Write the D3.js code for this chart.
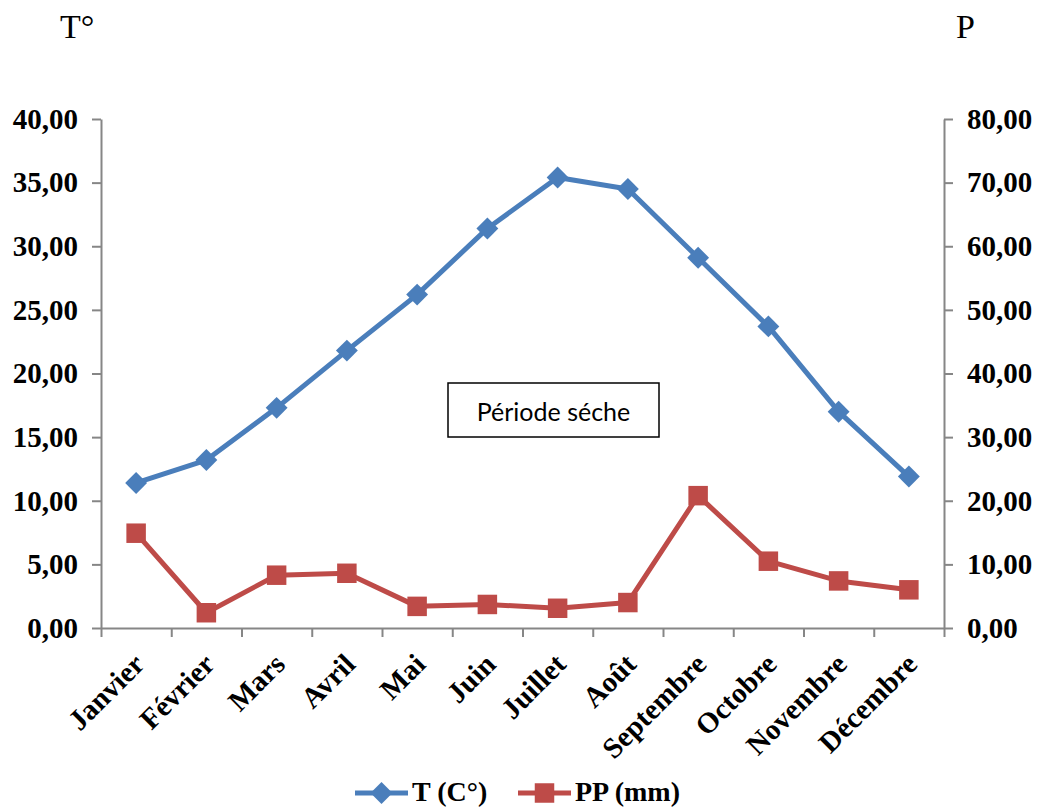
<!DOCTYPE html>
<html>
<head>
<meta charset="utf-8">
<script src="https://cdn.jsdelivr.net/npm/d3@7"></script>
<style>
  body { margin: 0; background: #fff; }
  svg { display: block; }
</style>
</head>
<body>
<div id="chart"></div>
<script>
// Diagramme ombrothermique — températures et précipitations mensuelles
const months = ['Janvier', 'Février', 'Mars', 'Avril', 'Mai', 'Juin',
  'Juillet', 'Août', 'Septembre', 'Octobre', 'Novembre', 'Décembre'];
const temperature = [11.4, 13.2, 17.3, 21.8, 26.2, 31.4, 35.4, 34.5, 29.1, 23.7, 17.0, 11.9];
const precipitation = [14.9, 2.4, 8.3, 8.6, 3.4, 3.7, 3.1, 4.0, 20.8, 10.5, 7.4, 6.0];
const tempTicks = [0, 5, 10, 15, 20, 25, 30, 35, 40];
const precTicks = [0, 10, 20, 30, 40, 50, 60, 70, 80];

const width = 1042, height = 808;
const margin = { top: 119, right: 98, bottom: 180, left: 101 };
const blue = '#4A7EBB', red = '#BE4B48', axisGrey = '#868686';
const serif = '"Liberation Serif", "Times New Roman", serif';

const svg = d3.select('#chart').append('svg')
  .attr('width', width).attr('height', height);

const x = d3.scaleBand().domain(months)
  .range([margin.left, width - margin.right]).padding(0);
const xEdges = d3.scaleLinear().domain([0, months.length])
  .range([margin.left, width - margin.right]);
const yT = d3.scaleLinear().domain([0, 40]).range([height - margin.bottom, margin.top]);
const yP = d3.scaleLinear().domain([0, 80]).range([height - margin.bottom, margin.top]);
const cx = m => x(m) + x.bandwidth() / 2;
const fmt = d => d.toFixed(2).replace('.', ',');

function styleAxis(g) {
  g.selectAll('path, line').attr('stroke', axisGrey).attr('stroke-width', 2);
  g.selectAll('text').attr('font-family', serif).attr('font-weight', 'bold')
    .attr('font-size', 29).attr('fill', '#000');
}

// left axis (temperature)
svg.append('g')
  .attr('transform', `translate(${margin.left},0)`)
  .call(d3.axisLeft(yT).tickValues(tempTicks).tickFormat(fmt).tickSize(9).tickSizeOuter(0).tickPadding(14))
  .call(styleAxis);

// right axis (precipitation)
svg.append('g')
  .attr('transform', `translate(${width - margin.right},0)`)
  .call(d3.axisRight(yP).tickValues(precTicks).tickFormat(fmt).tickSize(9).tickSizeOuter(0).tickPadding(14))
  .call(styleAxis);

// x axis: boundary ticks
svg.append('g')
  .attr('transform', `translate(0,${height - margin.bottom})`)
  .call(d3.axisBottom(xEdges).tickValues(d3.range(months.length + 1)).tickFormat('').tickSize(9).tickSizeOuter(0))
  .call(styleAxis);

// x axis: rotated month labels
svg.append('g')
  .attr('transform', `translate(0,${height - margin.bottom})`)
  .call(d3.axisBottom(x).tickSize(0).tickPadding(0))
  .call(g => g.select('.domain').remove())
  .call(styleAxis)
  .selectAll('text')
  .attr('text-anchor', 'end')
  .attr('dy', null)
  .attr('y', 0)
  .attr('transform', 'translate(10,38) rotate(-45)');

// lines
const lineT = d3.line().x((d, i) => cx(months[i])).y(d => yT(d));
const lineP = d3.line().x((d, i) => cx(months[i])).y(d => yP(d));

svg.append('path').datum(precipitation).attr('d', lineP)
  .attr('fill', 'none').attr('stroke', red).attr('stroke-width', 5).attr('stroke-linejoin', 'round');
svg.append('path').datum(temperature).attr('d', lineT)
  .attr('fill', 'none').attr('stroke', blue).attr('stroke-width', 5).attr('stroke-linejoin', 'round');

const diamond = d3.symbol().type(d3.symbolSquare).size(240);
const square = d3.symbol().type(d3.symbolSquare).size(380);

svg.append('g').selectAll('path').data(precipitation).join('path')
  .attr('d', square)
  .attr('transform', (d, i) => `translate(${cx(months[i])},${yP(d)})`)
  .attr('fill', red);

svg.append('g').selectAll('path').data(temperature).join('path')
  .attr('d', diamond)
  .attr('transform', (d, i) => `translate(${cx(months[i])},${yT(d)}) rotate(45)`)
  .attr('fill', blue);

// axis titles
svg.append('text').attr('x', 60).attr('y', 38).text('T°')
  .attr('font-family', serif).attr('font-size', 34).attr('fill', '#000');
svg.append('text').attr('x', 956).attr('y', 38).text('P')
  .attr('font-family', serif).attr('font-size', 34).attr('fill', '#000');

// annotation box
const box = svg.append('g').attr('transform', 'translate(448,383)');
box.append('rect').attr('width', 211).attr('height', 54)
  .attr('fill', '#fff').attr('stroke', '#000').attr('stroke-width', 1.5);
box.append('text').attr('x', 105.5).attr('y', 38).attr('text-anchor', 'middle')
  .attr('font-family', 'Lato, "Open Sans", sans-serif').attr('font-size', 25).attr('fill', '#000')
  .text('Période séche');

// legend
const legendItems = [
  { label: 'T (C°)', color: blue, sym: diamond, rot: 45, x: 355 },
  { label: 'PP (mm)', color: red, sym: square, rot: 0, x: 518 }
];
const legend = svg.append('g').attr('transform', 'translate(0,793)');
legendItems.forEach(it => {
  const g = legend.append('g').attr('transform', `translate(${it.x},0)`);
  g.append('line').attr('x1', 0).attr('x2', 53)
    .attr('stroke', it.color).attr('stroke-width', 5);
  g.append('path').attr('d', it.sym)
    .attr('transform', `translate(26.5,0) rotate(${it.rot})`).attr('fill', it.color);
  g.append('text').attr('x', 57).attr('y', 8).text(it.label)
    .attr('font-family', serif).attr('font-weight', 'bold').attr('font-size', 28).attr('fill', '#000');
});
</script>
</body>
</html>
